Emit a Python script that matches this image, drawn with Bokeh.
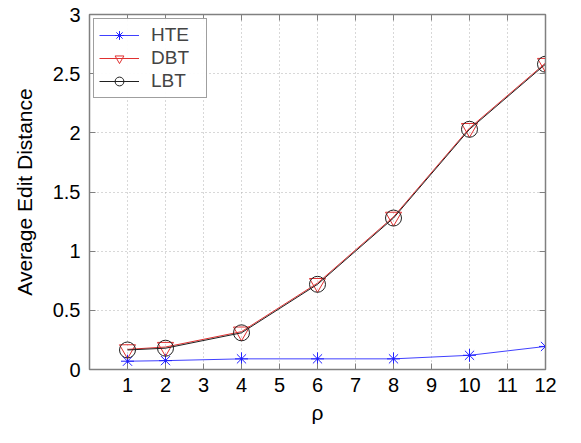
from bokeh.plotting import figure
from bokeh.models import FixedTicker, LinearAxis, Range1d, Legend, LegendItem
from bokeh.embed import file_html
from bokeh.resources import INLINE

rho = [1, 2, 4, 6, 8, 10, 12]
hte = [0.07, 0.075, 0.09, 0.09, 0.09, 0.12, 0.195]
dbt = [0.17, 0.19, 0.32, 0.73, 1.29, 2.04, 2.59]
lbt = [0.165, 0.18, 0.31, 0.72, 1.28, 2.03, 2.58]

x_ticks = list(range(1, 13))
y_ticks = [0, 0.5, 1, 1.5, 2, 2.5, 3]
y_tick_labels = ["0", "0.5", "1", "1.5", "2", "2.5", "3"]

FONT = "Liberation Sans"
GRAY = "#808080"

p = figure(width=565, height=427, output_backend="svg", toolbar_location=None,
           x_range=Range1d(0, 12), y_range=Range1d(0, 3),
           min_border_left=89, min_border_right=20, min_border_top=14, min_border_bottom=58)
p.outline_line_color = GRAY
p.outline_line_width = 1.5

for ax in (p.xaxis[0], p.yaxis[0]):
    ax.axis_line_color = GRAY
    ax.major_tick_in = 6
    ax.major_tick_out = 0
    ax.major_tick_line_color = GRAY
    ax.minor_tick_line_color = None
    ax.major_label_text_font = FONT
    ax.major_label_text_font_size = "20px"
    ax.major_label_text_color = "black"
    ax.axis_label_text_font = FONT
    ax.axis_label_text_font_style = "normal"
    ax.axis_label_text_color = "black"
    ax.axis_label_text_font_size = "21px"

p.xaxis[0].ticker = FixedTicker(ticks=x_ticks)
p.yaxis[0].ticker = FixedTicker(ticks=y_ticks)
p.yaxis[0].major_label_overrides = {t: l for t, l in zip(y_ticks, y_tick_labels)}
p.xaxis[0].axis_label = "ρ"
p.xaxis[0].axis_label_standoff = 6
p.yaxis[0].axis_label = "Average Edit Distance"
p.yaxis[0].axis_label_standoff = 14
p.xaxis[0].major_label_standoff = 8
p.yaxis[0].major_label_standoff = 9

top = LinearAxis(ticker=FixedTicker(ticks=x_ticks),
                 major_label_overrides={t: "" for t in x_ticks},
                 major_tick_in=6, major_tick_out=0, minor_tick_line_color=None,
                 axis_line_color=GRAY, major_tick_line_color=GRAY, major_label_standoff=0)
right = LinearAxis(ticker=FixedTicker(ticks=y_ticks),
                   major_label_overrides={t: "" for t in y_ticks},
                   major_tick_in=6, major_tick_out=0, minor_tick_line_color=None,
                   axis_line_color=GRAY, major_tick_line_color=GRAY, major_label_standoff=0)
p.add_layout(top, "above")
p.add_layout(right, "right")

p.xgrid.ticker = FixedTicker(ticks=x_ticks)
p.ygrid.ticker = FixedTicker(ticks=y_ticks)
for g in (p.xgrid[0], p.ygrid[0]):
    g.grid_line_color = "#b0b0b0"
    g.grid_line_dash = "1 3"
    g.grid_line_width = 1

l1 = p.line(rho, hte, color="#4040ff", line_width=1)
m1 = p.scatter(rho, hte, marker="asterisk", size=13, line_color="#2020ff", line_width=1)
p.scatter(rho, hte, marker="dot", size=8, line_color="#2020ff")
l2 = p.line(rho, dbt, color="#e03030", line_width=1)
m2 = p.scatter(rho, dbt, marker="inverted_triangle", size=16, line_color="#e03030",
               fill_color=None, line_width=1)
l3 = p.line(rho, lbt, color="#202020", line_width=1)
m3 = p.scatter(rho, lbt, marker="circle", size=16, line_color="#202020",
               fill_color=None, line_width=1)

legend = Legend(items=[LegendItem(label="HTE", renderers=[l1, m1]),
                       LegendItem(label="DBT", renderers=[l2, m2]),
                       LegendItem(label="LBT", renderers=[l3, m3])],
                location="top_left")
legend.label_text_font = FONT
legend.label_text_font_size = "19px"
legend.border_line_color = "#404040"
legend.border_line_width = 1
legend.glyph_width = 40
legend.glyph_height = 22
legend.label_height = 22
legend.label_width = 50
legend.spacing = 1
legend.padding = 5
legend.margin = 4
legend.label_standoff = 12
p.add_layout(legend)

open("out.html", "w").write(file_html(p, INLINE))
